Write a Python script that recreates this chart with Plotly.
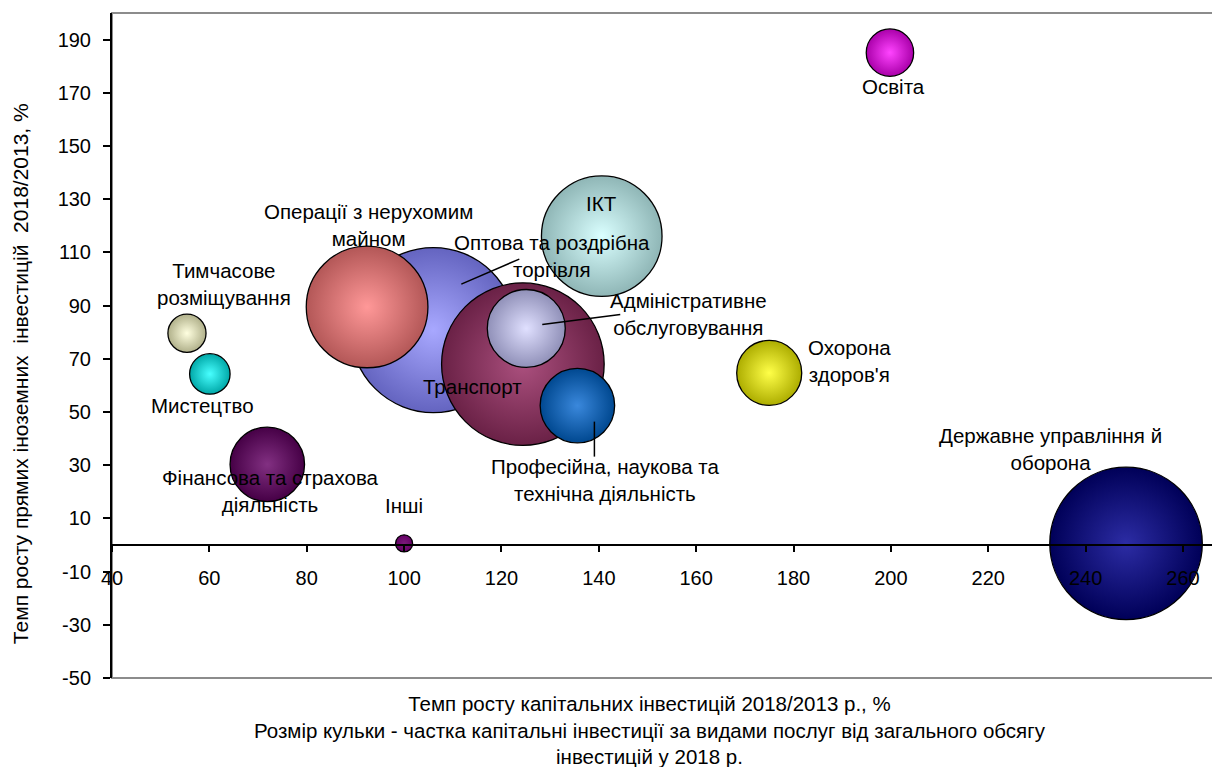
import plotly.graph_objects as go

# Sectors (drawn largest first, so smaller bubbles sit on top)
sectors = [
    "Оптова та роздрібна<br>торгівля",
    "Транспорт",
    "Державне управління й<br>оборона",
    "Операції з нерухомим<br>майном",
    "ІКТ",
    "Адміністративне<br>обслуговування",
    "Фінансова та страхова<br>діяльність",
    "Професійна, наукова та<br>технічна діяльність",
    "Охорона<br>здоров'я",
    "Освіта",
    "Мистецтво",
    "Тимчасове<br>розміщування",
    "Інші",
]
capex_growth = [106.0, 124.4, 248.3, 92.4, 140.6, 125.1, 71.9, 135.6, 175.0, 199.8, 60.1, 55.4, 100.0]
fdi_growth = [80.8, 68.0, 0.6, 89.5, 116.1, 81.4, 30.3, 52.4, 64.7, 185.1, 64.3, 79.6, 0.6]
capex_share = [10.3, 10.0, 8.8, 5.6, 5.5, 2.3, 2.1, 2.1, 1.6, 0.85, 0.62, 0.55, 0.11]

x_ticks = list(range(40, 261, 20))
y_ticks = list(range(-50, 191, 20))

# styling: (edge colour, centre colour) per bubble
edge_colors = ["#6464c0", "#6a2146", "#000058", "#b35757", "#8fb6b6", "#9090b8", "#460046",
               "#004890", "#adad00", "#aa00aa", "#00a8a8", "#b0b08a", "#660066"]
centre_colors = ["#a8a8ff", "#ab507e", "#2c2ca4", "#ff9898", "#daffff", "#e0e0ff", "#823082",
                 "#3a88dc", "#ffff48", "#ff44ff", "#48ffff", "#ffffe0", "#7a1a7a"]
# label offsets in px (right, up)
label_shift = [(119, 74), (-50, -22), (-76, 94), (1, 82), (0, 33), (162, 14), (3, -27),
               (28, -74), (80, 12), (4, -34), (-7, -32), (37, 49), (0, 38)]
# leader lines in px relative to bubble centre (x0, y0, x1, y1), y up
leaders = {0: (28, 46, 86, 71), 5: (16, 4, 94, 14), 7: (17, -16, 17, -51)}

FONT = "Liberation Sans, Arial, sans-serif"

fig = go.Figure()
fig.add_trace(go.Scatter(
    x=capex_growth, y=fdi_growth, mode="markers",
    marker=dict(
        size=capex_share, sizemode="area", sizeref=2 * max(capex_share) / 165.0 ** 2,
        color=edge_colors, opacity=1,
        gradient=dict(type="radial", color=centre_colors),
        line=dict(color="black", width=1.3),
    ),
    hovertext=[s.replace("<br>", " ") for s in sectors],
    showlegend=False,
))

for i, name in enumerate(sectors):
    dx, dy = label_shift[i]
    fig.add_annotation(x=capex_growth[i], y=fdi_growth[i], text=name, showarrow=False,
                       xanchor="center", yanchor="middle",
                       xshift=dx, yshift=dy, font=dict(size=20.5, color="black", family=FONT))

for i, (x0, y0, x1, y1) in leaders.items():
    fig.add_shape(type="line", xref="x", yref="y", xsizemode="pixel", ysizemode="pixel",
                  xanchor=capex_growth[i], yanchor=fdi_growth[i],
                  x0=x0, y0=y0, x1=x1, y1=y1, line=dict(color="black", width=1.5))

# plot area frame
fig.add_shape(type="rect", xref="paper", yref="paper", x0=0, y0=0, x1=1.01, y1=1,
              line=dict(color="#8c8c8c", width=2), layer="below")

fig.add_annotation(xref="paper", yref="paper", x=-0.083, y=0.457, textangle=-90,
                   xanchor="center", yanchor="middle",
                   text="Темп росту прямих іноземних  інвестицій  2018/2013, %", showarrow=False,
                   font=dict(size=21, family=FONT, color="black"))
fig.add_annotation(xref="paper", yref="paper", x=0.486, y=-0.078, showarrow=False,
                   xanchor="center", yanchor="middle",
                   text="Темп росту капітальних інвестицій 2018/2013 р., %<br>"
                        "Розмір кульки - частка капітальні інвестиції за видами послуг від загального обсягу<br>"
                        "інвестицій у 2018 р.",
                   font=dict(size=20.5, family=FONT, color="black"))

fig.update_xaxes(range=[40, 267.6], tickvals=x_ticks, ticktext=[str(v) for v in x_ticks],
                 anchor="free", position=0.2,
                 showline=True, linecolor="black", linewidth=2, ticks="outside", ticklen=6,
                 tickcolor="black", tickwidth=1.5, ticklabelstandoff=9, showgrid=False, zeroline=False,
                 tickfont=dict(size=20, family=FONT, color="black"))
fig.update_yaxes(range=[-50, 200], tickvals=y_ticks, ticktext=[str(v) for v in y_ticks],
                 showline=True, linecolor="black",
                 linewidth=2, ticks="outside", ticklen=7, tickcolor="black", tickwidth=1.5,
                 ticklabelstandoff=8, showgrid=False, zeroline=False,
                 tickfont=dict(size=20, family=FONT, color="black"))

# page body adds an 8px offset, so the figure is 8px smaller and margins shifted
fig.update_layout(width=1212, height=759, plot_bgcolor="white", paper_bgcolor="white",
                  margin=dict(l=104, r=0, t=5, b=89), font=dict(family=FONT))
fig.write_html("out.html")
